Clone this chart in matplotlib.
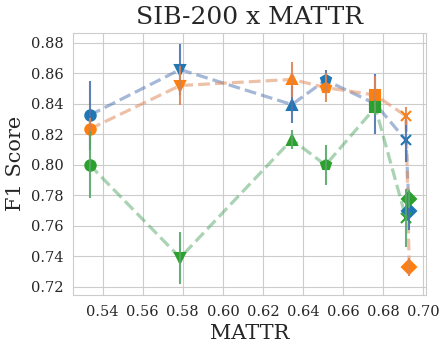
import numpy as np
import matplotlib.pyplot as plt
import seaborn as sns

sns.set_style("whitegrid")
plt.rcParams['font.family'] = ['DejaVu Serif']

# MATTR values of the 7 models (one marker per model)
mattr = [0.5335, 0.5787, 0.6344, 0.6512, 0.6760, 0.6913, 0.6929]
markers = ['o', 'v', '^', 'p', 's', 'x', 'D']

# F1 mean and error for the three series
f1_blue = [0.8325, 0.8625, 0.8395, 0.8555, 0.8400, 0.8160, 0.7695]
err_blue = [0.0225, 0.0165, 0.0120, 0.0070, 0.0195, 0.0140, 0.0125]
f1_orange = [0.8234, 0.8520, 0.8560, 0.8507, 0.8457, 0.8320, 0.7330]
err_orange = [0.0070, 0.0125, 0.0115, 0.0095, 0.0125, 0.0060, 0.0060]
f1_green = [0.8000, 0.7390, 0.8165, 0.7998, 0.8376, 0.7650, 0.7775]
err_green = [0.0220, 0.0170, 0.0060, 0.0130, 0.0050, 0.0190, 0.0060]

# marker colour, line/errorbar colour
series = [(f1_blue, err_blue, "#1f77b4", "#4c72b0"),
          (f1_orange, err_orange, "#ff7f0e", "#dd8452"),
          (f1_green, err_green, "#2ca02c", "#55a868")]

fig, ax = plt.subplots(figsize=(4.48, 3.49), dpi=100)
fig.subplots_adjust(left=0.164, right=0.951, bottom=0.155, top=0.906)

for y, e, c, lc in series:
    ax.plot(mattr, y, linestyle='--', color=lc, alpha=0.5, linewidth=2.3, zorder=2)
    for i in range(len(mattr)):
        ax.plot(mattr[i], y[i], marker=markers[i], color=c, markersize=7.5,
                markeredgewidth=1.5, linestyle='none', zorder=3)
        ax.errorbar(mattr[i], y[i], yerr=e[i], fmt='none', ecolor=lc,
                    elinewidth=1.5, alpha=0.9, zorder=4)

ax.set_xlim(0.5255, 0.7013)
ax.set_ylim(0.7146, 0.8866)
ax.set_xticks(np.arange(0.54, 0.701, 0.02))
ax.set_yticks(np.arange(0.72, 0.881, 0.02))
ax.tick_params(labelsize=10.5)
ax.set_title("SIB-200 x MATTR", fontsize=18)
ax.set_xlabel("MATTR", fontsize=15)
ax.set_ylabel("F1 Score", fontsize=15)

plt.savefig("out.png")
